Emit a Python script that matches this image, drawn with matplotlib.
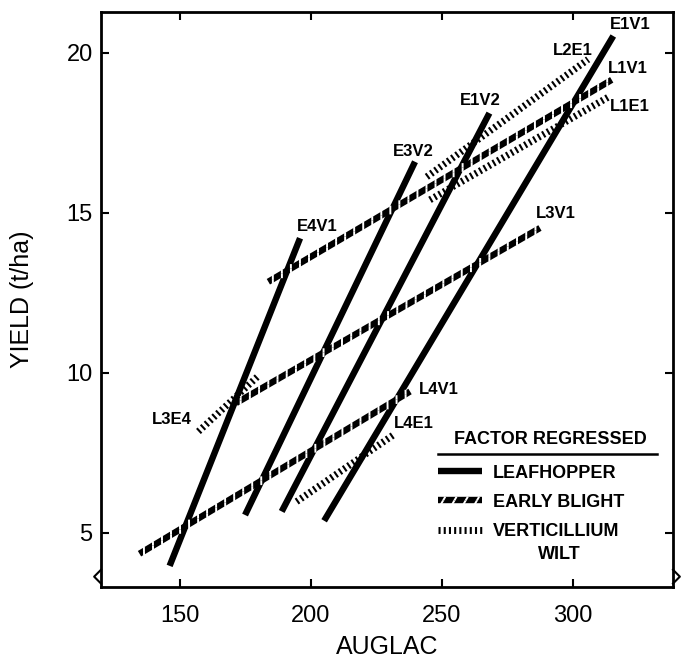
import numpy as np
import matplotlib
matplotlib.use('Agg')
import matplotlib.pyplot as plt
import matplotlib.patheffects as pe
from matplotlib.lines import Line2D

# regression lines (x = AUGLAC, y = yield t/ha)
leafhopper_x = [[146.0, 195.8], [174.8, 239.7], [188.8, 268.1], [205.0, 315.4]]
leafhopper_y = [[3.97, 14.21], [5.56, 16.60], [5.67, 18.12], [5.38, 20.53]]

blight_x = [[134.5, 237.8], [171.4, 287.4], [183.7, 314.8]]
blight_y = [[4.35, 9.42], [9.06, 14.53], [12.85, 19.16]]

wilt_x = [[244.2, 305.8], [245.4, 313.5], [194.5, 231.4], [157.0, 180.3]]
wilt_y = [[16.13, 19.80], [15.41, 18.62], [5.98, 8.06], [8.17, 9.94]]

# treatment labels at the line ends
label_names = ['E4V1', 'E3V2', 'E1V2', 'E1V1', 'L2E1', 'L1V1', 'L1E1',
               'L3V1', 'L4V1', 'L4E1', 'L3E4']
label_x = [202.2, 239.0, 264.5, 321.8, 300.1, 321.1, 321.8, 293.5, 248.6, 239.1, 146.8]
label_y = [14.57, 16.92, 18.50, 20.88, 20.09, 19.52, 18.32, 14.97, 9.47, 8.43, 8.53]

legend_labels = ['LEAFHOPPER', 'EARLY BLIGHT', 'VERTICILLIUM']
xticks = [150, 200, 250, 300]
yticks = [5, 10, 15, 20]

plt.rcParams['font.family'] = ['Liberation Sans', 'DejaVu Sans']

fig = plt.figure(figsize=(6.83, 6.59), dpi=100)
ax = fig.add_axes([101/683, 72/659, 572/683, 575/659])

# early blight: thick black line cut by white diagonal slashes
slash = dict(spacing=7.5, length=0.42, foreground='white', linewidth=1.4, capstyle='butt')
blight_fx = [pe.Normal(),
             pe.TickedStroke(angle=60, **slash),
             pe.TickedStroke(angle=-120, **slash)]

for xs, ys in zip(leafhopper_x, leafhopper_y):
    h_leaf, = ax.plot(xs, ys, color='black', lw=4.6, solid_capstyle='butt', zorder=2)
for xs, ys in zip(blight_x, blight_y):
    h_blight, = ax.plot(xs, ys, color='black', lw=4.6, solid_capstyle='butt', zorder=3)
    h_blight.set_path_effects(blight_fx)
for xs, ys in zip(wilt_x, wilt_y):
    h_wilt, = ax.plot(xs, ys, color='black', lw=5.0, dashes=(0.3, 0.45),
                      dash_capstyle='butt', zorder=4)

for name, lx, ly in zip(label_names, label_x, label_y):
    ax.text(lx, ly, name, fontsize=12, fontweight='bold', ha='center', va='center', zorder=5)

ax.set_xlim(119.8, 338.2)
ax.set_ylim(3.31, 21.28)
ax.set_xticks(xticks)
ax.set_yticks(yticks)
ax.tick_params(direction='in', length=6, width=1.5, labelsize=17, pad=6,
               top=True, right=True)
ax.tick_params(axis='x', pad=13)
for s in ax.spines.values():
    s.set_linewidth(2.0)

ax.set_xlabel('AUGLAC', fontsize=18)
ax.set_ylabel('YIELD (t/ha)', fontsize=18)
ax.xaxis.set_label_coords(0.5, -0.083)
ax.yaxis.set_label_coords(-0.118, 0.5)

# legend: title + rule drawn separately, second line of the wilt label below
leg = ax.legend([h_leaf, h_blight, h_wilt], legend_labels,
                loc='upper left', bbox_to_anchor=(0.589, 0.213), frameon=False,
                borderpad=0, borderaxespad=0,
                handlelength=2.45, handletextpad=0.6, labelspacing=0.68,
                prop={'size': 13, 'weight': 'bold'})
ax.text(0.785, 0.256, 'FACTOR REGRESSED', transform=ax.transAxes, fontsize=13,
        fontweight='bold', ha='center', va='center')
ax.text(0.802, 0.056, 'WILT', transform=ax.transAxes, fontsize=13,
        fontweight='bold', ha='center', va='center')
ax.add_line(Line2D([0.589, 0.972], [0.231, 0.231], transform=ax.transAxes,
                   color='black', lw=1.8, clip_on=False))

# axis break marks
ax.plot([0, -0.012, 0.0], [0.03, 0.018, 0.006], transform=ax.transAxes,
        color='black', lw=1.5, clip_on=False)
ax.plot([1.0, 1.012, 1.0], [0.03, 0.018, 0.006], transform=ax.transAxes,
        color='black', lw=1.5, clip_on=False)

plt.savefig('out.png', dpi=100)
